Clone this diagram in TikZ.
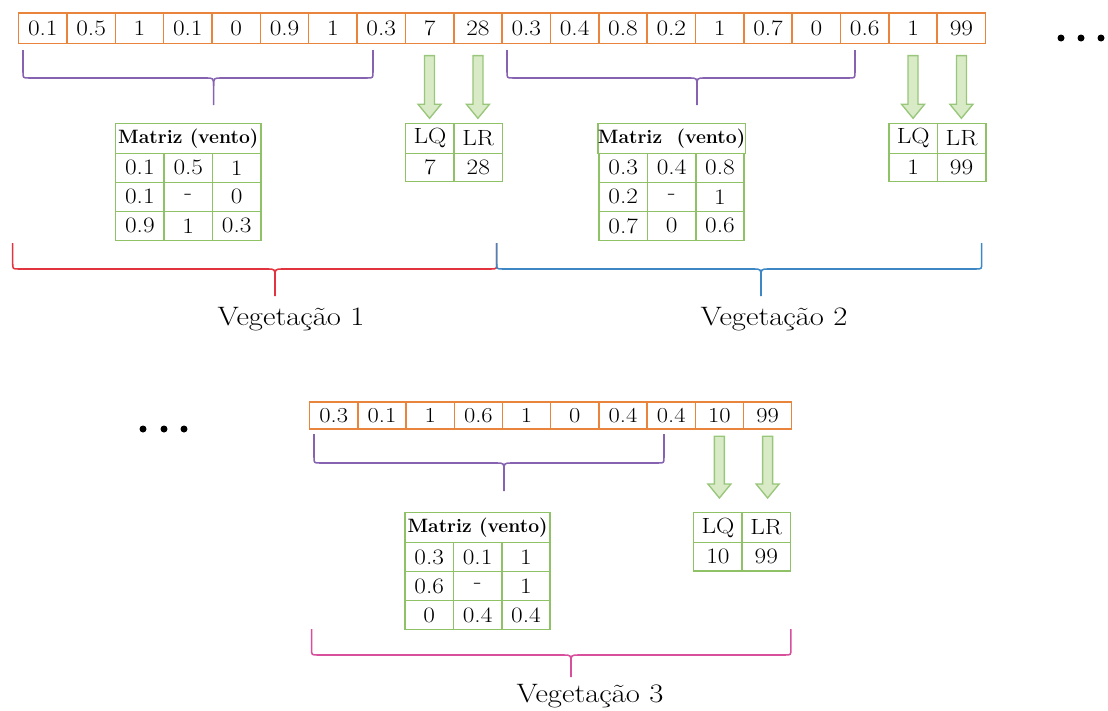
\documentclass[tikz,border=0pt]{standalone}
\usetikzlibrary{calc}
\definecolor{orangeC}{HTML}{E8843C}
\definecolor{greenC}{HTML}{8FC266}
\definecolor{arrowFill}{HTML}{D8EBC6}
\definecolor{arrowLine}{HTML}{98C67A}
\definecolor{purpleC}{HTML}{8662B0}
\definecolor{redC}{HTML}{E2343F}
\definecolor{blueC}{HTML}{3D87C5}
\definecolor{magentaC}{HTML}{D8509C}
\newcommand{\sx}[1]{\scalebox{1.15}[1]{#1}}
\tikzset{
  acell/.style={draw=orangeC, line width=1.15pt, minimum width=36.26pt, minimum height=22.8pt, inner sep=0pt, outer sep=0pt, font=\fontsize{16.5}{16.5}\selectfont},
  bcell/.style={acell, minimum width=36.15pt, minimum height=20.5pt, font=\fontsize{16}{16}\selectfont},
  mcell/.style={draw=greenC, line width=1.15pt, minimum width=36.3pt, minimum height=21.75pt, inner sep=0pt, outer sep=0pt, font=\fontsize{16.5}{16.5}\selectfont},
  hcell/.style={mcell, minimum width=108.9pt, minimum height=22.5pt, font=\fontsize{14.5}{14.5}\selectfont\bfseries},
  lcell/.style={mcell, minimum height=22.5pt},
  vcell/.style={mcell, minimum height=21.3pt},
  garrow/.style={fill=arrowFill, draw=arrowLine, line width=1pt, line join=miter},
  bracelin/.style={line width=1.15pt},
  veg/.style={font=\fontsize{20}{20}\selectfont, anchor=base, inner sep=0pt},
  dotnode/.style={circle, fill=black, minimum size=5.25pt, inner sep=0pt},
}
% wind matrix: prefix, left, top, header, values
\newcommand{\windmatrix}[5]{%
  \node[hcell] (#1h) at ({#2+72.6},{#3+15}) {#4};
  \foreach \vv [count=\kk from 0] in {#5} {
    \pgfmathtruncatemacro{\mrow}{div(\kk,3)}
    \pgfmathtruncatemacro{\mcol}{mod(\kk,3)}
    \node[mcell] (#1-\mrow-\mcol) at ({#2+48.4*(\mcol+0.5)},{#3+30+29*(\mrow+0.5)}) {\sx{\vv}};
  }
}
% LQ/LR table: prefix, left, top, v1, v2
\newcommand{\lqtable}[5]{%
  \node[lcell] (#1q) at ({#2+24.2},{#3+15}) {\sx{LQ}};
  \node[lcell] (#1r) at ({#2+72.6},{#3+15}) {\sx{LR}};
  \node[vcell] (#1a) at ({#2+24.2},{#3+44.2}) {\sx{#4}};
  \node[vcell] (#1b) at ({#2+72.6},{#3+44.2}) {\sx{#5}};
}
% block arrow: from, to, top gap, bottom gap
\newcommand{\greenarrow}[4]{%
  \filldraw[garrow] ($(#1.south)+(-5,#3)$) -- ($(#1.south)+(5,#3)$)
    -- ($(#1.south|-#2.north)+(5,-#4-14)$) -- ($(#1.south|-#2.north)+(11.5,-#4-14)$)
    -- ($(#1.south|-#2.north)+(0,-#4)$) -- ($(#1.south|-#2.north)+(-11.5,-#4-14)$)
    -- ($(#1.south|-#2.north)+(-5,-#4-14)$) -- cycle;
}
% brace: style, x1, x2, xtip, ytop, yh, ybot
\newcommand{\curlybrace}[7]{%
  \draw[bracelin,#1] (#2,#5) -- (#2,#6-6) .. controls (#2,#6) .. (#2+6,#6) -- (#4-8,#6) .. controls (#4,#6) .. (#4,#6+8) -- (#4,#7);
  \draw[bracelin,#1] (#3,#5) -- (#3,#6-6) .. controls (#3,#6) .. (#3-6,#6) -- (#4+8,#6) .. controls (#4,#6) .. (#4,#6+8);
}
\begin{document}
\begin{tikzpicture}[x=0.75pt,y=-0.75pt]
\useasboundingbox (0,0) rectangle (1108,711);
% top array
\foreach \v [count=\i] in {0.1,0.5,1,0.1,0,0.9,1,0.3,7,28,0.3,0.4,0.8,0.2,1,0.7,0,0.6,1,99}
  \node[acell] (t\i) at ({18.6+48.35*(\i-0.5)},28.4) {\sx{\v}};
% bottom array
\foreach \v [count=\i] in {0.3,0.1,1,0.6,1,0,0.4,0.4,10,99}
  \node[bcell] (b\i) at ({309.7+48.2*(\i-0.5)},415.5) {\sx{\v}};
% matrices
\windmatrix{m1}{115.7}{123.3}{Matriz (vento)}{0.1,0.5,1,0.1,-,0,0.9,1,0.3}
\windmatrix{m2}{599}{123.3}{Matriz\ \ (vento)}{0.3,0.4,0.8,0.2,-,1,0.7,0,0.6}
\windmatrix{m3}{405}{512.6}{Matriz (vento)}{0.3,0.1,1,0.6,-,1,0,0.4,0.4}
% LQ / LR tables
\lqtable{q1}{405.7}{123.3}{7}{28}
\lqtable{q2}{889}{123.3}{1}{99}
\lqtable{q3}{693.7}{512.6}{10}{99}
% arrows
\greenarrow{t9}{q1q}{12}{5}
\greenarrow{t10}{q1r}{12}{5}
\greenarrow{t19}{q2q}{12}{5}
\greenarrow{t20}{q2r}{12}{5}
\greenarrow{b9}{q3q}{7}{14.6}
\greenarrow{b10}{q3r}{7}{14.6}
% braces
\curlybrace{purpleC}{23}{373}{213.6}{50}{78}{105}
\curlybrace{purpleC}{507}{855}{697}{50}{78}{105}
\curlybrace{purpleC}{314}{664}{504}{434}{463}{491}
\curlybrace{redC}{12.7}{496.7}{275}{243}{269}{296}
\curlybrace{blueC}{496.7}{981.7}{761}{243}{269}{296}
\curlybrace{magentaC}{311.6}{790.9}{571}{629}{655}{677}
% labels
\node[veg] (v1) at (291,325) {\sx{Vegetação 1}};
\node[veg] (v2) at (774,325) {\sx{Vegetação 2}};
\node[veg] (v3) at (590,702) {\sx{Vegetação 3}};
% dots
\node[dotnode] (d1) at (1061,38) {};
\node[dotnode] (d2) at (1081,38) {};
\node[dotnode] (d3) at (1101,38) {};
\node[dotnode] (d4) at (143,429) {};
\node[dotnode] (d5) at (164,429) {};
\node[dotnode] (d6) at (184,429) {};
\end{tikzpicture}
\end{document}
